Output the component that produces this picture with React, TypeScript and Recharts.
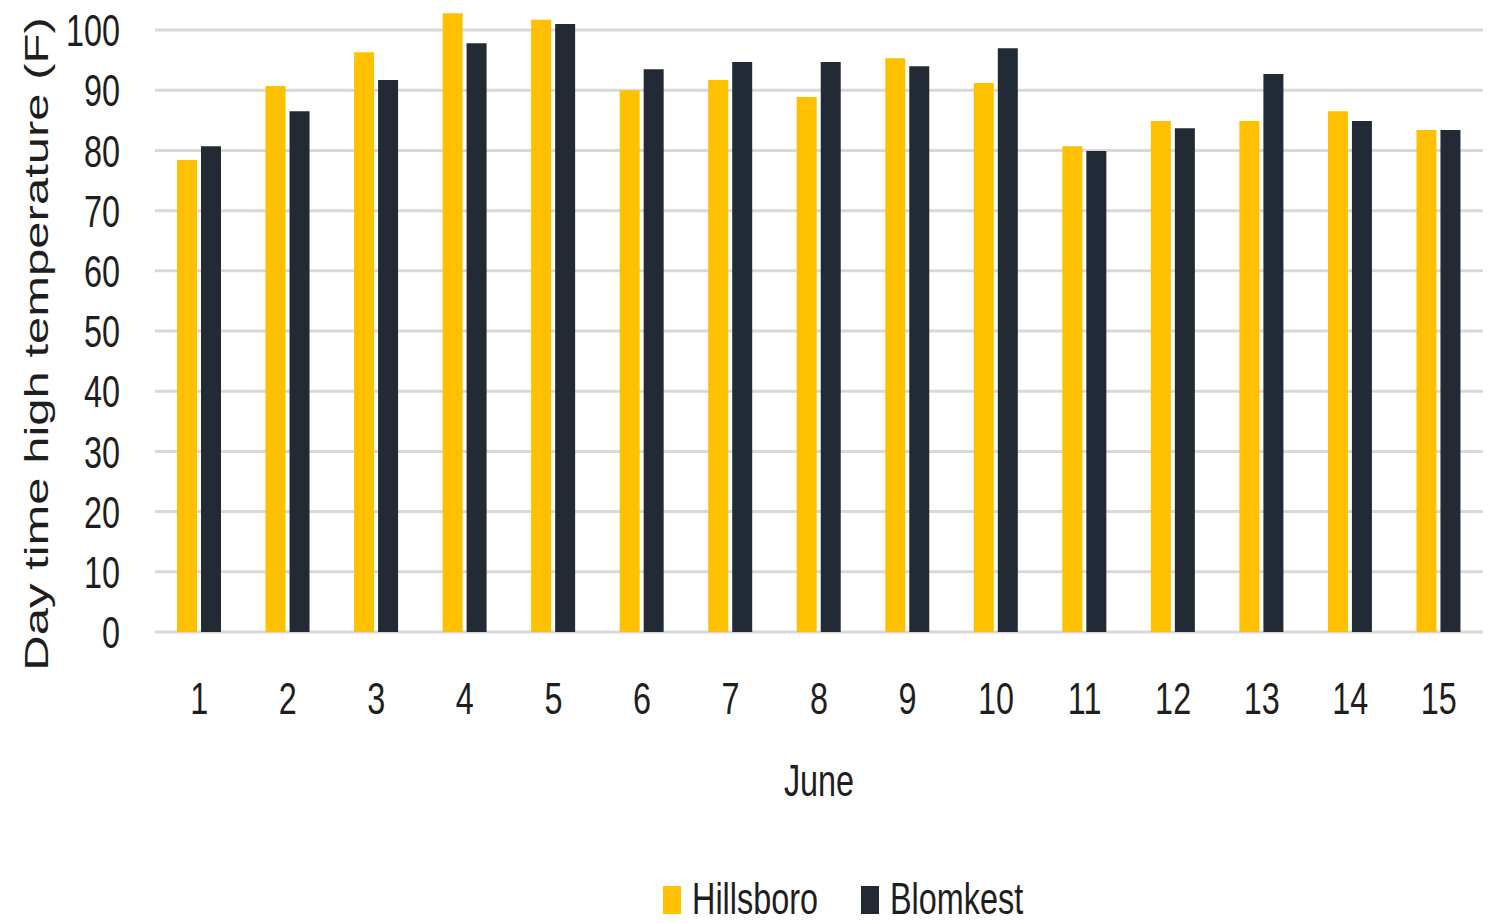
import { BarChart, Bar, XAxis, YAxis, CartesianGrid, Legend } from "recharts";

const days = ["1", "2", "3", "4", "5", "6", "7", "8", "9", "10", "11", "12", "13", "14", "15"];
const hillsboro = [78.4, 90.7, 96.3, 102.8, 101.7, 90, 91.7, 88.9, 95.3, 91.2, 80.7, 84.9, 84.9, 86.5, 83.4];
const blomkest = [80.7, 86.5, 91.7, 97.8, 101, 93.5, 94.7, 94.7, 94, 97, 79.9, 83.7, 92.7, 84.9, 83.4];
const yTicks = [0, 10, 20, 30, 40, 50, 60, 70, 80, 90, 100];
const yDomain = [0, 104];
const seriesNames = ["Hillsboro", "Blomkest"];

const data = days.map((d, i) => ({ day: d, Hillsboro: hillsboro[i], Blomkest: blomkest[i] }));

const FONT = "'Liberation Sans', Arial, sans-serif";
const INK = "#1e1e1e";
const SX = 0.72; // the source text is squeezed horizontally

// gridlines only at the labelled ticks (no line at the top of the domain)
const gridRows = ({ yAxis, offset }: any) => {
  const sc = yAxis?.scale;
  if (typeof sc === "function") return yTicks.map((t) => sc(t));
  if (sc && typeof sc.map === "function") return yTicks.map((t) => sc.map(t));
  return yTicks.map((t) => offset.top + (offset.height * (yDomain[1] - t)) / (yDomain[1] - yDomain[0]));
};

const YTick = ({ x, y, payload }: any) => (
  <text transform={`translate(${x},${y}) scale(${SX},1)`} textAnchor="end" dy="0.36em"
        fontFamily={FONT} fontSize={45} fill={INK}>{payload.value}</text>
);

const XTick = ({ x, y, payload }: any) => (
  <text transform={`translate(${x},${y}) scale(${SX},1)`} textAnchor="middle" dy="0.72em"
        fontFamily={FONT} fontSize={45} fill={INK}>{payload.value}</text>
);

const YLabel = ({ viewBox }: any) => {
  const cx = (viewBox?.x ?? 0) + 36;
  const cy = (viewBox?.y ?? 0) + (viewBox?.height ?? 0) / 2 + 25;
  return (
    <text transform={`translate(${cx},${cy}) scale(0.68,1) rotate(-90)`} textAnchor="middle" dy="0.36em"
          fontFamily={FONT} fontSize={49} fill={INK}>Day time high temperature (F)</text>
  );
};

const XLabel = ({ viewBox }: any) => {
  const cx = (viewBox?.x ?? 0) + (viewBox?.width ?? 0) / 2;
  const cy = (viewBox?.y ?? 0) + 148;
  return (
    <text transform={`translate(${cx},${cy}) scale(${SX},1)`} textAnchor="middle" dy="0.36em"
          fontFamily={FONT} fontSize={45} fill={INK}>June</text>
  );
};

const LegendBox = ({ payload }: any) => {
  const starts = [663, 861];
  const items = seriesNames.map((n) => (payload || []).find((p: any) => p.value === n)).filter(Boolean);
  return (
    <svg width={1483} height={50} style={{ display: "block" }}>
      {items.map((p: any, i: number) => (
        <g key={p.value}>
          <rect x={starts[i]} y={13} width={18} height={28} fill={p.color} />
          <text transform={`translate(${starts[i] + 29},41) scale(${SX},1)`} fontFamily={FONT}
                fontSize={45} fill={INK}>{p.value}</text>
        </g>
      ))}
    </svg>
  );
};

export default function App() {
  return (
    <div style={{ position: "absolute", left: 0, top: 0, background: "#fff" }}>
      <BarChart width={1488} height={923} data={data} barSize={20} barGap={4}
                margin={{ top: 6, right: 5, left: 0, bottom: 0 }}>
        <CartesianGrid vertical={false} stroke="#d9d9d9" strokeWidth={3}
                       horizontalCoordinatesGenerator={gridRows} />
        <XAxis dataKey="day" axisLine={false} tickLine={false} tickSize={0} tickMargin={50}
               height={241} interval={0} tick={<XTick />} label={<XLabel />} />
        <YAxis domain={yDomain} ticks={yTicks} axisLine={false} tickLine={false} tickSize={0}
               tickMargin={35} width={155} tick={<YTick />} label={<YLabel />} />
        <Legend verticalAlign="bottom" height={50} content={<LegendBox />} />
        <Bar dataKey="Hillsboro" fill="#FFC000" isAnimationActive={false} />
        <Bar dataKey="Blomkest" fill="#222A35" isAnimationActive={false} />
      </BarChart>
    </div>
  );
}
